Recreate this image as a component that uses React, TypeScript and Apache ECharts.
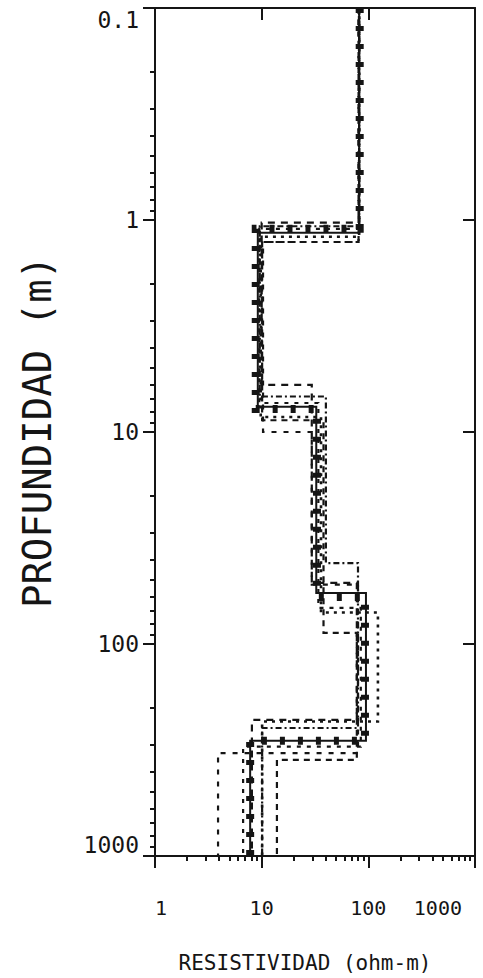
import React, { useEffect, useRef } from "react";
import * as echarts from "echarts";

// ---- axis extents and tick values ----
const DEPTH_TOP = 0.1;
const DEPTH_BOTTOM = 1000;
const RHO_MIN = 1;
const RHO_MAX = 1000;
const xMajorTicks = [1, 10, 100, 1000];
const xMinorTicks = [2, 3, 4, 5, 6, 7, 8, 9, 20, 30, 40, 50, 60, 70, 80, 90, 200, 300, 400, 500, 600, 700, 800, 900];
const xTopTicks = [10, 100];
const yMajorTicks = [0.1, 1, 10, 100, 1000];
const yMinorTicks = [0.2, 0.3, 0.4, 0.5, 0.6, 0.7, 0.8, 0.9, 2, 3, 4, 5, 6, 7, 8, 9, 20, 30, 40, 50, 60, 70, 80, 90, 200, 300, 400, 500, 600, 700, 800, 900];
const yRightTicks = [1, 10, 100];

// ---- layered models: resistivity per layer (ohm-m), interface depths (m) ----
const bestRho = [82, 9.2, 32.5, 95, 7.8];
const bestDepth = [1.15, 7.6, 57.5, 286];

const eqARho = [83, 8.8, 33, 93, 7.8];
const eqADepth = [1.1, 7.8, 60, 286];

const eqBRho = [82, 10.0, 29.5, 78, 8.1];
const eqBDepth = [1.03, 6.0, 51.5, 228];

const eqCRho = [82, 9.6, 40, 80, 10.1];
const eqCDepth = [1.07, 6.8, 41.5, 249];

const eqDRho = [81, 10.3, 29.5, 80, 3.9];
const eqDDepth = [1.27, 10.0, 52.5, 327];

const eqERho = [81, 10.1, 38, 78, 13.9];
const eqEDepth = [1.27, 8.8, 88.7, 352];

const eqFRho = [82, 9.8, 36, 123, 10.1];
const eqFDepth = [1.2, 8.5, 71, 232];

const eqGRho = [82, 9.5, 34, 85, 6.7];
const eqGDepth = [1.1, 7.3, 67.6, 305];

function stepPoints(rho: number[], depth: number[]): number[][] {
  const pts: number[][] = [[rho[0], DEPTH_TOP]];
  for (let i = 0; i < depth.length; i++) {
    pts.push([rho[i], depth[i]]);
    pts.push([rho[i + 1], depth[i]]);
  }
  pts.push([rho[rho.length - 1], DEPTH_BOTTOM]);
  return pts;
}

const INK = "#151515";
const MONO = "'DejaVu Sans Mono', 'Liberation Mono', monospace";

function lineSeries(name: string, rho: number[], depth: number[], width: number, type: any, z: number) {
  return {
    name,
    type: "line",
    xAxisIndex: 0,
    yAxisIndex: 0,
    data: stepPoints(rho, depth),
    showSymbol: false,
    symbol: "none",
    z,
    lineStyle: { color: INK, width, type, cap: "butt", join: "miter" },
    emphasis: { disabled: true },
  };
}

export default function App() {
  const ref = useRef<HTMLDivElement>(null);

  useEffect(() => {
    if (!ref.current) return;
    const chart = echarts.init(ref.current, null, { renderer: "svg" });

    const baseLog = { type: "log", logBase: 10, min: RHO_MIN, max: RHO_MAX, splitLine: { show: false }, gridIndex: 0 };
    const baseLogY = { type: "log", logBase: 10, min: DEPTH_TOP, max: DEPTH_BOTTOM, inverse: true, splitLine: { show: false }, gridIndex: 0 };
    const axisLine = { show: true, onZero: false, lineStyle: { color: INK, width: 2 } };

    const option: any = {
      animation: false,
      backgroundColor: "#ffffff",
      grid: { left: 155, right: 8, top: 8, bottom: 122, containLabel: false, outerBoundsMode: "none" },
      xAxis: [
        {
          ...baseLog,
          position: "bottom",
          axisLine,
          axisTick: { show: true, inside: false, length: 12, customValues: xMajorTicks, lineStyle: { color: INK, width: 2 } },
          axisLabel: {
            show: true,
            customValues: xMajorTicks,
            formatter: (v: number) => (v === RHO_MAX ? `{end|${v}}` : String(v)),
            rich: { end: { color: INK, fontFamily: MONO, fontSize: 20, padding: [0, 13, 0, 0] } },
            color: INK,
            fontFamily: MONO,
            fontSize: 20,
            margin: 42,
            alignMinLabel: "left",
            alignMaxLabel: "right",
          },
          name: "RESISTIVIDAD (ohm-m)",
          nameLocation: "middle",
          nameGap: 96,
          nameMoveOverlap: false,
          nameTextStyle: { color: INK, fontFamily: MONO, fontSize: 21, padding: [0, 20, 0, 0] },
        },
        {
          ...baseLog,
          position: "bottom",
          axisLine: { show: false, onZero: false },
          axisTick: { show: true, inside: false, length: 5, customValues: xMinorTicks, lineStyle: { color: INK, width: 2 } },
          axisLabel: { show: false },
        },
        {
          ...baseLog,
          position: "top",
          axisLine,
          axisTick: { show: true, inside: true, length: 12, customValues: xTopTicks, lineStyle: { color: INK, width: 2 } },
          axisLabel: { show: false },
        },
      ],
      yAxis: [
        {
          ...baseLogY,
          position: "left",
          axisLine,
          axisTick: { show: true, inside: false, length: 12, customValues: yMajorTicks, lineStyle: { color: INK, width: 2 } },
          axisLabel: {
            show: true,
            customValues: yMajorTicks,
            formatter: (v: number) => String(v),
            color: INK,
            fontFamily: MONO,
            fontSize: 23,
            margin: 16,
            verticalAlignMinLabel: "top",
            verticalAlignMaxLabel: "bottom",
          },
          name: "PROFUNDIDAD (m)",
          nameLocation: "middle",
          nameRotate: 90,
          nameGap: 98,
          nameMoveOverlap: false,
          nameTextStyle: { color: INK, fontFamily: MONO, fontSize: 39 },
        },
        {
          ...baseLogY,
          position: "left",
          axisLine: { show: false, onZero: false },
          axisTick: { show: true, inside: false, length: 5, customValues: yMinorTicks, lineStyle: { color: INK, width: 2 } },
          axisLabel: { show: false },
        },
        {
          ...baseLogY,
          position: "right",
          axisLine,
          axisTick: { show: true, inside: true, length: 12, customValues: yRightTicks, lineStyle: { color: INK, width: 2 } },
          axisLabel: { show: false },
        },
      ],
      series: [
        lineSeries("Equivalente B", eqBRho, eqBDepth, 2.2, [7, 6], 2),
        lineSeries("Equivalente C", eqCRho, eqCDepth, 2.2, [6, 3, 2, 3], 2),
        lineSeries("Equivalente D", eqDRho, eqDDepth, 2.2, [5, 7], 2),
        lineSeries("Equivalente E", eqERho, eqEDepth, 2.2, [6, 5], 2),
        lineSeries("Equivalente F", eqFRho, eqFDepth, 2.6, [3, 5], 2),
        lineSeries("Equivalente G", eqGRho, eqGDepth, 2.2, [4, 6], 2),
        lineSeries("Equivalente A", eqARho, eqADepth, 8, [5, 13], 3),
        lineSeries("Modelo", bestRho, bestDepth, 2, "solid", 4),
      ],
    };

    chart.setOption(option);
    return () => chart.dispose();
  }, []);

  return (
    <div
      ref={ref}
      style={{ position: "fixed", left: 0, top: 0, width: 483, height: 978, background: "#fff" }}
    />
  );
}
